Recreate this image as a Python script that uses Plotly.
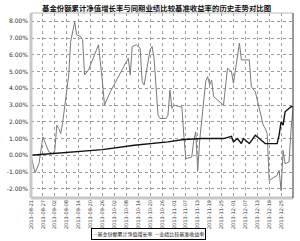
import plotly.graph_objects as go

title = "基金份额累计净值增长率与同期业绩比较基准收益率的历史走势对比图"

fund_dates = ["2013-08-21","2013-08-23","2013-08-25","2013-08-27","2013-08-30","2013-09-01","2013-09-02",
              "2013-09-03","2013-09-04","2013-09-05","2013-09-06","2013-09-07","2013-09-09","2013-09-10",
              "2013-09-12","2013-09-13","2013-09-15","2013-09-16","2013-09-17","2013-09-19","2013-09-23",
              "2013-09-24","2013-09-26","2013-09-27","2013-09-30","2013-10-08","2013-10-09","2013-10-10",
              "2013-10-11","2013-10-13","2013-10-15","2013-10-16","2013-10-17","2013-10-20","2013-10-21",
              "2013-10-22","2013-10-24","2013-10-25","2013-10-28","2013-10-29","2013-10-30","2013-10-31",
              "2013-11-01","2013-11-04","2013-11-05","2013-11-06","2013-11-07","2013-11-10","2013-11-11",
              "2013-11-12","2013-11-13","2013-11-14","2013-11-15","2013-11-17","2013-11-18","2013-11-19",
              "2013-11-20","2013-11-21","2013-11-25","2013-11-26","2013-11-28","2013-11-30","2013-12-01",
              "2013-12-04","2013-12-05","2013-12-09","2013-12-10","2013-12-12","2013-12-16","2013-12-17",
              "2013-12-18","2013-12-19","2013-12-23","2013-12-24","2013-12-25","2013-12-26","2013-12-27",
              "2013-12-29","2013-12-30","2013-12-31"]
fund_values = [0.00,-1.05,-0.5,1.1,0.2,0.1,0.3,
               1.8,1.6,1.3,2.0,3.0,4.8,6.8,
               7.96,7.2,7.1,6.9,4.8,5.1,6.3,
               6.6,4.4,3.0,3.8,5.5,5.8,4.8,
               6.5,6.6,6.4,4.4,4.2,6.3,6.5,
               5.8,2.4,2.2,2.2,2.4,3.9,2.8,
               3.0,2.9,2.9,1.2,-0.2,-0.1,0.9,
               1.4,-0.9,0.9,2.0,4.4,4.7,4.2,
               4.5,3.5,3.1,3.0,5.2,5.0,4.3,
               6.7,5.7,5.7,4.1,3.8,1.8,1.6,
               1.3,-1.5,-1.2,-0.9,-2.1,0.3,-0.5,
               -0.4,1.5,2.8]

bench_dates = ["2013-08-21","2013-08-31","2013-09-26","2013-10-12","2013-10-29","2013-11-06","2013-11-15",
               "2013-11-26","2013-11-30","2013-12-01","2013-12-03","2013-12-05","2013-12-06","2013-12-09",
               "2013-12-12","2013-12-14","2013-12-17","2013-12-23","2013-12-24","2013-12-25","2013-12-26",
               "2013-12-27","2013-12-30","2013-12-31"]
bench_values = [0.0,0.1,0.34,0.6,0.8,0.94,1.0,
                1.0,1.13,0.8,1.0,0.7,1.0,0.7,
                1.2,1.0,0.7,0.7,1.2,2.0,1.8,
                2.6,2.9,2.9]

tick_dates = ["2013-08-21","2013-08-27","2013-09-02","2013-09-08","2013-09-14","2013-09-20","2013-09-26",
              "2013-10-02","2013-10-08","2013-10-14","2013-10-20","2013-10-26","2013-11-01","2013-11-07",
              "2013-11-13","2013-11-19","2013-11-25","2013-12-01","2013-12-07","2013-12-13","2013-12-19",
              "2013-12-25"]
y_ticks = [-2, -1, 0, 1, 2, 3, 4, 5, 6, 7, 8]
y_labels = ["-2.00%","-1.00%","0.00%","1.00%","2.00%","3.00%","4.00%","5.00%","6.00%","7.00%","8.00%"]

series_names = ["基金份额累计净值增长率", "业绩比较基准收益率"]
series_colors = ["#7a7a7a", "#111111"]

font_cjk = "Noto Sans CJK SC"

fig = go.Figure()
fig.add_trace(go.Scatter(x=fund_dates, y=fund_values, mode="lines", name=series_names[0],
                         line=dict(color=series_colors[0], width=1)))
fig.add_trace(go.Scatter(x=bench_dates, y=bench_values, mode="lines", name=series_names[1],
                         line=dict(color=series_colors[1], width=1.4)))

legend_text = ("<span style='color:%s'>—</span>%s  <span style='color:%s'>—</span>%s"
               % (series_colors[0], series_names[0], series_colors[1], series_names[1]))

fig.update_layout(
    width=300, height=241,
    margin=dict(l=27, r=7, t=13, b=43),
    paper_bgcolor="white", plot_bgcolor="white",
    showlegend=False,
    xaxis=dict(type="date", range=["2013-08-21", "2013-12-31"],
               tickmode="array", tickvals=tick_dates, ticktext=tick_dates,
               tickangle=-90, tickfont=dict(family="DejaVu Sans", size=5, color="#333"),
               showgrid=True, gridcolor="#9a9a9a", griddash="dot", gridwidth=0.6,
               showline=False, zeroline=False, ticks=""),
    yaxis=dict(range=[-2.55, 8.5], tickmode="array", tickvals=y_ticks, ticktext=y_labels,
               tickfont=dict(family="DejaVu Sans", size=6, color="#333"),
               showgrid=True, gridcolor="#9a9a9a", griddash="dot", gridwidth=0.6,
               showline=False, zeroline=False, ticks="", ticklabelstandoff=2),
    annotations=[
        dict(text="<b>" + title + "</b>", xref="paper", yref="paper", x=0.48, y=1.0 + 5.5 / 185,
             xanchor="center", yanchor="middle", showarrow=False,
             font=dict(family=font_cjk, size=7.4, color="#111")),
        dict(text=legend_text, xref="paper", yref="paper", x=0.23, y=-30.0 / 185,
             xanchor="left", yanchor="top", showarrow=False,
             font=dict(family=font_cjk, size=5, color="#111"),
             bordercolor="#000", borderwidth=1, borderpad=1, bgcolor="white"),
    ],
    shapes=[
        dict(type="line", xref="paper", yref="paper", x0=0, x1=0, y0=0, y1=1,
             line=dict(color="#c8c8c8", width=3)),
        dict(type="line", xref="paper", yref="paper", x0=0, x1=1, y0=0, y1=0,
             line=dict(color="#c8c8c8", width=3)),
        dict(type="line", xref="paper", yref="paper", x0=1, x1=1, y0=0, y1=1,
             line=dict(color="#333", width=1)),
        dict(type="line", xref="paper", yref="paper", x0=0, x1=1, y0=1, y1=1,
             line=dict(color="#bbb", width=1)),
    ],
)

fig.write_html("out.html")
